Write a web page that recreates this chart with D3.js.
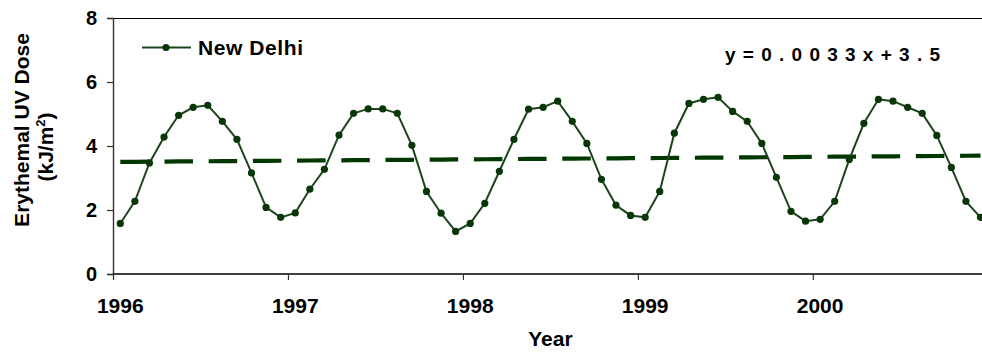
<!DOCTYPE html>
<html>
<head>
<meta charset="utf-8">
<script src="https://cdn.jsdelivr.net/npm/d3@7"></script>
<style>
  html, body { margin: 0; padding: 0; background: #fff; }
  svg { display: block; }
  text { font-family: "Liberation Sans", Arial, sans-serif; font-weight: bold; fill: #000; }
</style>
</head>
<body>
<svg id="chart" width="982" height="352"></svg>
<script>
// Monthly erythemal UV dose at New Delhi, Jan 1996 – Dec 2000 (kJ/m²)
const years = [1996, 1997, 1998, 1999, 2000];
const yTicks = [0, 2, 4, 6, 8];
const uvDose = [
  1.58, 2.27, 3.47, 4.28, 4.96, 5.21, 5.27, 4.77, 4.21, 3.16, 2.08, 1.77,
  1.91, 2.65, 3.27, 4.34, 5.02, 5.16, 5.16, 5.02, 4.02, 2.58, 1.90, 1.33,
  1.58, 2.21, 3.21, 4.21, 5.15, 5.21, 5.40, 4.77, 4.08, 2.96, 2.15, 1.83,
  1.77, 2.58, 4.40, 5.33, 5.46, 5.52, 5.08, 4.77, 4.08, 3.02, 1.96, 1.65,
  1.71, 2.27, 3.58, 4.71, 5.46, 5.40, 5.21, 5.02, 4.33, 3.33, 2.27, 1.77
];
// Linear trend fitted over month number (1..60)
const trendSlope = 0.0033;
const trendIntercept = 3.5;
const seriesName = "New Delhi";

const svg = d3.select("#chart");
const lineColor = "#1c451c";
const markColor = "#073607";
const trendColor = "#003800";

const plotLeft = 113, plotTop = 18, plotBottom = 274;
const monthW = 14.58;
const nMonths = uvDose.length;

// x: month index -> pixel; each month occupies one category slot
const x = d3.scaleLinear().domain([0, nMonths]).range([plotLeft, plotLeft + nMonths * monthW]);
const y = d3.scaleLinear().domain([0, 8]).range([plotBottom, plotTop]);

const data = uvDose.map((v, i) => ({ i, v }));
const xc = i => x(i + 0.5);

// plot frame: top edge
svg.append("line")
  .attr("x1", plotLeft).attr("x2", 982)
  .attr("y1", plotTop + 0.5).attr("y2", plotTop + 0.5)
  .attr("stroke", "#000").attr("stroke-width", 1.2);

// y axis
const yAxis = svg.append("g")
  .attr("transform", `translate(${plotLeft},0)`)
  .call(d3.axisLeft(y).tickValues(yTicks).tickSize(6).tickPadding(10).tickFormat(d3.format("d")));
yAxis.select(".domain").attr("stroke", "#333").attr("stroke-width", 1.4);
yAxis.selectAll(".tick line").attr("stroke", "#333").attr("stroke-width", 1.2);
yAxis.selectAll(".tick text")
  .attr("font-size", 20).attr("font-family", "Liberation Sans, Arial, sans-serif")
  .attr("font-weight", "bold").attr("fill", "#000");

// x axis: ticks at year boundaries, labels centred on each January
const xAxis = svg.append("g")
  .attr("transform", `translate(0,${plotBottom})`)
  .call(d3.axisBottom(x).tickValues(years.map((yr, k) => k * 12)).tickSize(6).tickFormat(""));
xAxis.select(".domain").attr("d", `M${plotLeft},0H982`).attr("stroke", "#000").attr("stroke-width", 1.4);
xAxis.selectAll(".tick line").attr("stroke", "#333").attr("stroke-width", 1.2);

svg.append("g").selectAll("text")
  .data(years)
  .join("text")
  .attr("x", (yr, k) => xc(k * 12))
  .attr("y", 313)
  .attr("text-anchor", "middle")
  .attr("font-size", 21)
  .text(d => d);

// axis titles
svg.append("text")
  .attr("x", x(nMonths / 2)).attr("y", 346)
  .attr("text-anchor", "middle").attr("font-size", 21)
  .text("Year");

svg.append("text")
  .attr("transform", "translate(29,130) rotate(-90)")
  .attr("text-anchor", "middle").attr("font-size", 21)
  .text("Erythemal UV Dose");

const unit = svg.append("text")
  .attr("transform", "translate(53,147) rotate(-90)")
  .attr("text-anchor", "middle").attr("font-size", 21);
unit.append("tspan").text("(kJ/m");
unit.append("tspan").attr("font-size", 13).attr("dy", -8).text("2");
unit.append("tspan").attr("dy", 8).text(")");

// linear trend line
const trend = d3.range(nMonths).map(i => ({ i, v: trendSlope * (i + 1) + trendIntercept }));
svg.append("path")
  .datum(trend)
  .attr("fill", "none")
  .attr("stroke", trendColor)
  .attr("stroke-width", 4.2)
  .attr("stroke-dasharray", "28.5,15.7")
  .attr("d", d3.line().x(d => xc(d.i)).y(d => y(d.v)));

// data series
svg.append("path")
  .datum(data)
  .attr("fill", "none")
  .attr("stroke", lineColor)
  .attr("stroke-width", 2)
  .attr("d", d3.line().x(d => xc(d.i)).y(d => y(d.v)));

svg.append("g").selectAll("circle")
  .data(data)
  .join("circle")
  .attr("cx", d => xc(d.i))
  .attr("cy", d => y(d.v))
  .attr("r", 3.6)
  .attr("fill", markColor);

// legend
const legend = svg.append("g");
legend.append("line")
  .attr("x1", 142).attr("x2", 191).attr("y1", 47.5).attr("y2", 47.5)
  .attr("stroke", lineColor).attr("stroke-width", 2);
legend.append("circle").attr("cx", 166).attr("cy", 47.5).attr("r", 3.6).attr("fill", markColor);
legend.append("text")
  .attr("x", 198).attr("y", 55).attr("font-size", 21)
  .attr("textLength", 105).attr("lengthAdjust", "spacing")
  .text(seriesName);

// trend equation
svg.append("text")
  .attr("x", 725).attr("y", 61).attr("font-size", 19)
  .attr("textLength", 215).attr("lengthAdjust", "spacing")
  .text(`y=${trendSlope}x+${trendIntercept}`);
</script>
</body>
</html>
